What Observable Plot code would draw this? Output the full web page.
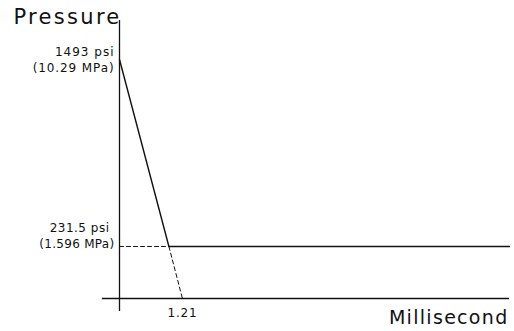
<!DOCTYPE html>
<html>
<head>
<meta charset="utf-8">
<script src="https://cdn.jsdelivr.net/npm/d3@7"></script>
<script src="https://cdn.jsdelivr.net/npm/@observablehq/plot@0.6"></script>
<style>
  html, body { margin: 0; padding: 0; background: #fff; }
  #chart svg { display: block; }
</style>
</head>
<body>
<div id="chart"></div>
<script>
// ---- data ----
const peakPsi = 1493;
const plateauPsi = 231.5;
const zeroCrossMs = 1.21;   // where the extended decay reaches zero
const kneeMs = 0.95;        // where the decay meets the plateau (as drawn)
const endMs = 7.5;          // right end of the trace

const pulseTimes = [0, kneeMs, endMs];
const pulsePressures = [peakPsi, plateauPsi, plateauPsi];

const extTimes = [kneeMs, zeroCrossMs];
const extPressures = [plateauPsi, 0];

const yTickValues = [peakPsi, plateauPsi];
const yTickPsi = ["1493 psi", "231.5 psi"];
const yTickMPa = ["(10.29 MPa)", "(1.596 MPa)"];
const xTickValues = [zeroCrossMs];
const xTickLabels = ["1.21"];

const yTitle = "Pressure";
const xTitle = "Millisecond";

// ---- tables built from the arrays ----
const pulse = pulseTimes.map((t, i) => ({t, p: pulsePressures[i]}));
const ext = extTimes.map((t, i) => ({t, p: extPressures[i]}));
const guide = [{t: 0, p: plateauPsi}, {t: kneeMs, p: plateauPsi}];
const yTicks = yTickValues.map((p, i) => ({p, psi: yTickPsi[i], mpa: yTickMPa[i]}));
const xTicks = xTickValues.map((t, i) => ({t, label: xTickLabels[i]}));

const font = "DejaVu Sans, sans-serif";

const chart = Plot.plot({
  width: 514,
  height: 331,
  margin: 0,
  style: {background: "#fff", fontFamily: font},
  x: {domain: [0, endMs], range: [119, 509], axis: null},
  y: {type: "pow", exponent: 0.818, domain: [0, peakPsi], range: [298, 59], axis: null},
  marks: [
    // axes lines
    Plot.ruleY([0], {x1: -0.33, x2: endMs, stroke: "#111", strokeWidth: 1.3}),
    Plot.ruleX([0], {y1: -42, y2: 1796, stroke: "#111", strokeWidth: 1.3}),
    // dashed guide and extension
    Plot.line(guide, {x: "t", y: "p", stroke: "#111", strokeWidth: 1, strokeDasharray: "4,3"}),
    Plot.line(ext, {x: "t", y: "p", stroke: "#111", strokeWidth: 1, strokeDasharray: "4,3"}),
    // pressure pulse
    Plot.line(pulse, {x: "t", y: "p", stroke: "#111", strokeWidth: 1.4}),
    // y tick labels
    Plot.text(yTicks.slice(0, 1), {x: 0, y: "p", text: "psi", textAnchor: "end", dx: -5, dy: -7, fontSize: 12, fill: "#111"}),
    Plot.text(yTicks.slice(0, 1), {x: 0, y: "p", text: "mpa", textAnchor: "end", dx: -5, dy: 9, fontSize: 12, fill: "#111"}),
    Plot.text(yTicks.slice(1), {x: 0, y: "p", text: "psi", textAnchor: "end", dx: -10, dy: -18, fontSize: 12, fill: "#111"}),
    Plot.text(yTicks.slice(1), {x: 0, y: "p", text: "mpa", textAnchor: "end", dx: -5, dy: -2, fontSize: 12, fill: "#111"}),
    // x tick label
    Plot.text(xTicks, {x: "t", y: 0, text: "label", dy: 15, fontSize: 12, fill: "#111"}),
    // axis titles
    Plot.text([yTitle], {frameAnchor: "top-left", dx: 13, dy: 9, fontSize: 21, fill: "#111"}),
    Plot.text([xTitle], {frameAnchor: "bottom-right", dx: -6, dy: -8, fontSize: 19, fill: "#111"})
  ]
});
// wide, plotter-like letter spacing
const spacing = new Map([
  [yTitle, 2.3], [xTitle, 1.3],
  [yTickPsi[0], 1.0], [yTickPsi[1], 0.5],
  [yTickMPa[0], 0.9], [yTickMPa[1], 0.3],
  [xTickLabels[0], 0.8]
]);
d3.select(chart).selectAll("text").each(function () {
  const s = spacing.get(this.textContent);
  if (s !== undefined) this.setAttribute("letter-spacing", s);
});
document.getElementById("chart").appendChild(chart);
</script>
</body>
</html>
